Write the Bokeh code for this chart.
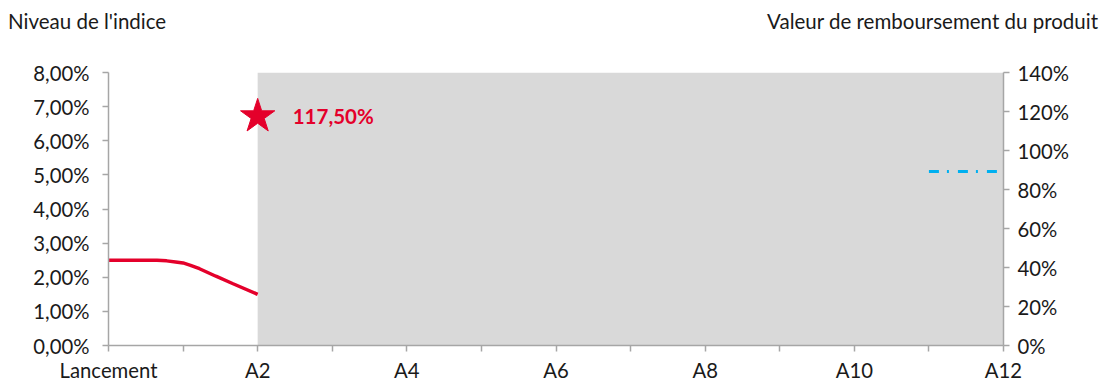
from bokeh.plotting import figure
from bokeh.layouts import column
from bokeh.models import Range1d, LinearAxis, FixedTicker, Div
from bokeh.core.properties import value
from bokeh.embed import file_html
from bokeh.resources import INLINE

categories = ["Lancement", "A1", "A2", "A3", "A4", "A5", "A6", "A7", "A8", "A9", "A10", "A11", "A12"]
left_ticks = [0, 1, 2, 3, 4, 5, 6, 7, 8]
right_ticks = [0, 20, 40, 60, 80, 100, 120, 140]

index_x = [0, 0.5, 0.65, 0.78, 0.9, 1, 1.1, 1.22, 1.44, 1.67, 2]
index_y = [2.50, 2.50, 2.495, 2.48, 2.45, 2.42, 2.35, 2.25, 2.03, 1.81, 1.50]

shade_start = 2
shade_end = 12

star_x = [2]
star_y = [117.5]
star_label = "117,50%"

barrier_x = [11, 12]
barrier_y = [89.2, 89.2]

left_title = "Niveau de l'indice"
right_title = "Valeur de remboursement du produit"

FONT = "Lato"
FS = "20.3px"
RED = "#E4002B"
TXT = "#1a1a1a"
W = 1103
HEAD = 45

head = Div(
    text=(f'<div style="position:relative;width:{W}px;height:{HEAD}px;font-family:Lato;'
          f'font-size:20.5px;color:{TXT};line-height:1;">'
          f'<span style="position:absolute;left:8px;top:11px;white-space:nowrap">{left_title}</span>'
          f'<span style="position:absolute;right:5px;top:11px;white-space:nowrap">{right_title}</span>'
          '</div>'),
    width=W, height=HEAD, margin=0)

p = figure(output_backend="svg", toolbar_location=None,
           frame_width=895, frame_height=273,
           x_range=Range1d(0, 12), y_range=Range1d(0, 8),
           min_border_left=108, min_border_right=100, min_border_top=72 - HEAD, min_border_bottom=37)
p.extra_y_ranges = {"right": Range1d(0, 140)}
p.outline_line_color = None
p.xgrid.visible = False
p.ygrid.visible = False

p.quad(left=[shade_start], right=[shade_end], bottom=[0], top=[8], fill_color="#D9D9D9", line_color=None)

p.line(index_x, index_y, line_color=RED, line_width=3.5)

p.scatter(star_x, star_y, marker="star", size=36, fill_color=RED, line_color=RED, y_range_name="right")
p.text(x=[star_x[0] + 0.47], y=star_y, text=[star_label], y_range_name="right",
       text_font_size="20.5px", text_font_style="bold", text_color=RED, text_baseline="middle",
       text_font=value(FONT))

p.line(barrier_x, barrier_y, y_range_name="right", line_color="#00B0F0", line_width=3, line_dash="10 8 2 9")

AX = "#A6A6A6"
p.xaxis.ticker = FixedTicker(ticks=list(range(len(categories))))
p.xaxis.major_label_overrides = {i: (c if i % 2 == 0 else "") for i, c in enumerate(categories)}
p.yaxis.ticker = FixedTicker(ticks=left_ticks)
p.yaxis.major_label_overrides = {t: f"{t},00%" for t in left_ticks}

right = LinearAxis(y_range_name="right", ticker=FixedTicker(ticks=right_ticks))
right.major_label_overrides = {t: f"{t}%" for t in right_ticks}
p.add_layout(right, "right")

for ax in [p.xaxis[0], p.yaxis[0], right]:
    ax.axis_line_color = AX
    ax.axis_line_width = 1.5
    ax.major_tick_line_color = AX
    ax.major_tick_line_width = 1.5
    ax.major_tick_out = 6
    ax.major_tick_in = 0
    ax.minor_tick_line_color = None
    ax.major_label_text_font = FONT
    ax.major_label_text_font_size = FS
    ax.major_label_text_color = TXT
p.xaxis.major_label_standoff = 6
p.yaxis.major_label_standoff = 13
right.major_label_standoff = 8

layout = column(head, p, spacing=0)
open("out.html", "w").write(file_html(layout, INLINE))
